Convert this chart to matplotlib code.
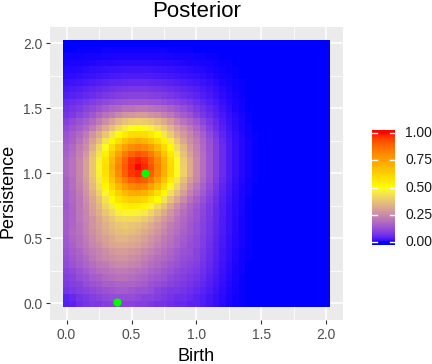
import matplotlib
matplotlib.use('Agg')
import matplotlib.pyplot as plt
from matplotlib.colors import ListedColormap
import numpy as np

plt.rcParams['font.family'] = ['Liberation Sans', 'DejaVu Sans']

# posterior intensity, in percent of the maximum
# one row per persistence value, top row = 2.0, bottom row = 0.0
# columns are birth = 0.00, 0.05, ... ; cells not listed on the right are 0
post_rows = [
    [],
    [0.05,0.05,0.1,0.1,0.1,0.1,0.2,0.2,0.2,0.2,0.2,0.2,0.2,0.2,0.2,0.2,0.1,0.1,0.1,0.1,0.05],
    [0.2,0.2,0.2,0.3,0.3,0.3,0.4,0.4,0.5,0.5,0.5,0.5,0.5,0.5,0.5,0.4,0.4,0.3,0.3,0.3,0.2,0.2,0.1,0.1],
    [0.3,0.4,0.4,0.5,0.6,0.7,0.8,0.8,0.9,1,1,1,1,1,0.9,0.8,0.8,0.7,0.6,0.5,0.4,0.3,0.3,0.2,0.1,0.1],
    [0.7,0.7,0.8,1,1.2,1.3,1.5,1.7,1.8,1.9,2,2,2,1.9,1.8,1.7,1.5,1.3,1.2,1,0.8,0.7,0.5,0.3,0.2,0.1,0.1],
    [1,1.1,1.3,1.5,1.7,2,2.3,2.5,2.7,2.9,3,3,3,2.9,2.7,2.5,2.3,2,1.7,1.5,1.3,1,0.8,0.5,0.3,0.2,0.1],
    [1.7,1.9,2.1,2.5,2.9,3.4,3.8,4.2,4.5,4.8,5,5,5,4.8,4.5,4.2,3.8,3.4,2.9,2.5,2.1,1.7,1.3,0.9,0.5,0.3,0.2,0.1],
    [2.5,2.8,3.2,3.8,4.4,5,5.6,6.2,6.8,7.1,7.5,7.5,7.5,7.1,6.8,6.2,5.6,5,4.4,3.8,3.2,2.5,1.9,1.3,0.8,0.5,0.2,0.1],
    [3.3,3.7,4.2,5,5.8,6.7,7.5,8.3,9,9.5,10,10,10,9.5,9,8.3,7.5,6.7,5.8,5,4.2,3.3,2.5,1.7,1,0.6,0.3,0.15],
    [5,5.5,6.5,7.5,8.5,10,11,12,13,13.5,14,14,14,13.5,13,12,11,10,8.5,7.5,6,4.8,3.5,2.4,1.4,0.8,0.4,0.2],
    [6,7,8,10,11,13,15,17,18,20,20,21,21,20,19,18,16,14,12,10,8,6.3,4.6,3.2,1.9,1.1,0.5,0.2],
    [7,8,10,12,14,17,20,22,25,27,28,29,29,27,26,23,21,18,15,13,10,7.5,5.5,3.8,2.4,1.4,0.7,0.3,0.1],
    [9,11,13,15,18,22,26,30,34,37,39,40,39,38,35,32,28,24,20,17,14,10.5,7.5,5,3,1.7,0.9,0.4,0.15],
    [11,13,15,18,22,27,32,37,42,46,49,50,49,47,43,39,34,29,25,21,17,13,9,6,3.7,2,1,0.5,0.2],
    [13,15,18,22,27,32,38,44,50,55,59,60,59,56,51,45,39,33,28,24,20,15.5,11,7.5,4.5,2.5,1.3,0.6,0.25,0.1],
    [14,16,20,24,30,36,44,52,59,66,70,72,70,66,60,53,45,38,31,26,22,17,12.5,8.5,5,2.8,1.4,0.7,0.3,0.1],
    [15,18,22,26,33,41,49,59,68,75,80,82,80,76,68,60,51,42,35,28,23,18,13,9,5.5,3,1.5,0.7,0.3,0.1],
    [16,19,23,28,36,44,54,65,75,84,89,92,90,84,76,66,56,46,37,30,24,18.5,13.5,9,5.5,3,1.5,0.7,0.3,0.1],
    [17,20,24,30,38,47,58,69,80,89,96,98,96,90,81,71,59,49,39,32,25,19,13.5,9,5.5,3,1.5,0.7,0.3,0.1],
    [17,20,24,30,38,48,59,71,82,91,97,100,98,92,83,72,60,49,40,32,25,19,13.5,9,5.5,3,1.5,0.7,0.3,0.1],
    [17,20,24,30,38,47,58,69,80,90,96,98,96,90,81,71,60,49,40,32,25,19,13.5,9,5.5,3,1.5,0.7,0.3,0.1],
    [16,19,24,29,37,45,55,66,76,84,90,92,90,84,76,66,55,45,36,29,24,18,13,8.5,5,2.8,1.4,0.6,0.25,0.1],
    [16,19,23,28,35,43,52,61,70,77,81,83,81,75,68,59,49,41,33,26,21,16,11.5,7.5,4.5,2.5,1.2,0.5,0.2],
    [15,18,22,27,33,40,48,56,63,69,72,73,71,66,59,51,43,36,29,23,19,14.5,10.5,7,4,2.2,1.1,0.5,0.2],
    [15,18,21,26,31,37,44,51,57,61,63,63,61,56,51,44,37,31,25,20,16,12.5,9,6,3.6,2,1,0.4,0.15],
    [14,17,21,25,30,35,41,46,51,54,55,54,52,48,42,37,31,26,21,17,14,11,8,5.3,3.2,1.8,0.9,0.4,0.15],
    [15,17,21,24,29,33,38,42,46,48,48,47,45,41,37,32,27,23,19,16,13,10.5,7.7,5.1,3.1,1.7,0.9,0.4,0.15],
    [15,17,21,24,27,31,35,38,41,42,42,41,39,36,32,28,25,21,18,15,13,10,7.5,5,3,1.7,0.8,0.35,0.15],
    [15,17,20,23,27,30,33,36,38,39,38,37,35,32,29,26,22,20,17,14,12,9.5,7.2,4.8,2.9,1.6,0.8,0.35,0.15],
    [15,18,20,23,26,29,32,34,36,37,36,34,32,30,27,24,21,19,16,14,12,9.5,7,4.7,2.8,1.6,0.8,0.3,0.1],
    [14,17,19,22,25,28,30,32,34,34,33,32,30,27,25,22,20,17,15,13,11,8.8,6.5,4.3,2.6,1.4,0.7,0.3,0.1],
    [14,16,19,21,24,26,29,31,32,32,31,30,28,26,23,21,19,17,14,12,11,8.5,6.2,4.1,2.5,1.4,0.7,0.3,0.1],
    [13,15,17,20,22,24,26,28,29,29,28,27,25,23,21,19,17,15,13,12,10,8,5.8,3.9,2.3,1.3,0.6,0.25,0.1],
    [12,14,16,18,21,23,25,26,27,27,26,25,23,21,19,18,16,14,12,11,10,7.5,5.4,3.6,2.1,1.2,0.6,0.25,0.1],
    [11,13,15,17,19,21,22,24,25,25,24,23,21,19,18,16,14,13,11,10,9,6.8,4.9,3.2,1.9,1,0.5,0.2],
    [10,11,13,15,17,19,20,21,22,22,21,20,19,17,16,14,13,11,10,9,8,6.1,4.4,2.9,1.7,0.9,0.45,0.2],
    [9,10,12,13,15,16,18,19,20,20,19,18,17,15,14,13,11,10,9,8,7,5.4,3.9,2.5,1.5,0.8,0.4,0.15],
    [8,9,10,12,13,14,16,16,17,17,17,16,15,13,12,11,10,9,8,7,6,4.7,3.4,2.2,1.3,0.7,0.35,0.15],
    [7,8,9,10,11,12,13,14,15,15,14,13,13,12,10,9,8,8,7,6,5,4,2.9,1.9,1.1,0.6,0.3,0.1],
    [4,5,7,8,9,10,11,12,12,12,12,11,10,10,9,8,7,6,6,5,4,3.2,2.3,1.5,0.9,0.5,0.25,0.1],
    [3.5,4,6,7,8,8,9,10,10,10,10,9,9,8,7,7,6,5,5,4,4,3,2.1,1.4,0.8,0.45,0.2,0.1],
]
birth = np.arange(41) * 0.05
persistence = np.arange(41) * 0.05

# observed diagram points
pts_birth = [0.60, 0.39]
pts_pers = [1.00, 0.01]

axis_ticks = [0.0, 0.5, 1.0, 1.5, 2.0]
axis_ticklabels = ['0.0', '0.5', '1.0', '1.5', '2.0']
legend_ticks = [0.0, 0.25, 0.5, 0.75, 1.0]
legend_ticklabels = ['0.00', '0.25', '0.50', '0.75', '1.00']


# ggplot-like gradient: blue -> yellow -> red interpolated in CIELAB
def to_lab(rgb):
    c = np.asarray(rgb, float)
    lin = np.where(c <= 0.04045, c / 12.92, ((c + 0.055) / 1.055) ** 2.4)
    M = np.array([[0.4124564, 0.3575761, 0.1804375],
                  [0.2126729, 0.7151522, 0.0721750],
                  [0.0193339, 0.1191920, 0.9503041]])
    xyz = M @ lin / np.array([0.95047, 1.0, 1.08883])
    d = 6 / 29
    f = np.where(xyz > d ** 3, np.cbrt(xyz), xyz / (3 * d * d) + 4 / 29)
    return np.array([116 * f[1] - 16, 500 * (f[0] - f[1]), 200 * (f[1] - f[2])])


def from_lab(lab):
    L, a, b = lab
    fy = (L + 16) / 116
    f = np.array([fy + a / 500, fy, fy - b / 200])
    d = 6 / 29
    xyz = np.where(f > d, f ** 3, 3 * d * d * (f - 4 / 29)) * np.array([0.95047, 1.0, 1.08883])
    Minv = np.array([[3.2404542, -1.5371385, -0.4985314],
                     [-0.9692660, 1.8760108, 0.0415560],
                     [0.0556434, -0.2040259, 1.0572252]])
    lin = np.clip(Minv @ xyz, 0, 1)
    c = np.where(lin <= 0.0031308, 12.92 * lin, 1.055 * lin ** (1 / 2.4) - 0.055)
    return np.clip(c, 0, 1)


stops = [to_lab([0, 0, 1]), to_lab([1, 1, 0]), to_lab([1, 0, 0])]
cols = []
for t in np.linspace(0, 1, 1024):
    if t <= 0.5:
        s = t / 0.5
        lab = stops[0] * (1 - s) + stops[1] * s
    else:
        s = (t - 0.5) / 0.5
        lab = stops[1] * (1 - s) + stops[2] * s
    cols.append(from_lab(lab))
cmap = ListedColormap(cols)

Z = np.zeros((41, 41))
for i, row in enumerate(post_rows):
    if row:
        Z[40 - i, :len(row)] = np.array(row) / 100.0

W, H = 432, 364
fig = plt.figure(figsize=(W / 100, H / 100), dpi=100)

ax = fig.add_axes([50 / W, 44 / H, 293 / W, 293.3 / H])
ax.set_facecolor('#EBEBEB')
for s in ax.spines.values():
    s.set_visible(False)
ax.set_axisbelow(True)
ax.set_xticks(axis_ticks)
ax.set_xticklabels(axis_ticklabels)
ax.set_yticks(axis_ticks)
ax.set_yticklabels(axis_ticklabels)
ax.set_xticks([0.25, 0.75, 1.25, 1.75], minor=True)
ax.set_yticks([0.25, 0.75, 1.25, 1.75], minor=True)
ax.grid(which='major', color='white', lw=1.1)
ax.grid(which='minor', color='white', lw=0.55)
ax.tick_params(which='major', length=3, width=0.8, color='#333333',
               labelsize=10, labelcolor='#4D4D4D', pad=2.5)
ax.tick_params(which='minor', length=0)

half = 0.025
ax.imshow(Z, cmap=cmap, vmin=0, vmax=1, origin='lower', interpolation='nearest',
          aspect='auto', zorder=2,
          extent=[birth[0] - half, birth[-1] + half,
                  persistence[0] - half, persistence[-1] + half])
ax.scatter(pts_birth, pts_pers, s=34, color='#00FF00', lw=0, zorder=3)

ax.set_xlim(-0.1275, 2.1275)
ax.set_ylim(-0.1275, 2.1275)

fig.text(196.5 / W, 1 - 17 / H, 'Posterior', ha='center', va='baseline', fontsize=16)
fig.text(196.5 / W, 3 / H, 'Birth', ha='center', va='baseline', fontsize=13)
fig.text(8 / W, 173.3 / H, 'Persistence', ha='center', va='center',
         rotation=90, fontsize=13)

# colour bar
cax = fig.add_axes([372 / W, (H - 245) / H, 23 / W, 115 / H])
grad = np.clip(np.linspace(-0.0275, 1.0275, 300), 0, 1).reshape(-1, 1)
cax.imshow(grad, cmap=cmap, vmin=0, vmax=1, aspect='auto', origin='lower',
           extent=[0, 1, -0.0275, 1.0275])
cax.set_xlim(0, 1)
cax.set_ylim(-0.0275, 1.0275)
cax.axis('off')
for v, lab in zip(legend_ticks, legend_ticklabels):
    cax.plot([0, 0.2], [v, v], color='white', lw=1)
    cax.plot([0.8, 1], [v, v], color='white', lw=1)
    cax.text(1.45, v, lab, ha='left', va='center', fontsize=10, color='#1A1A1A',
             transform=cax.transData, clip_on=False)

fig.savefig('out.png', dpi=100)
